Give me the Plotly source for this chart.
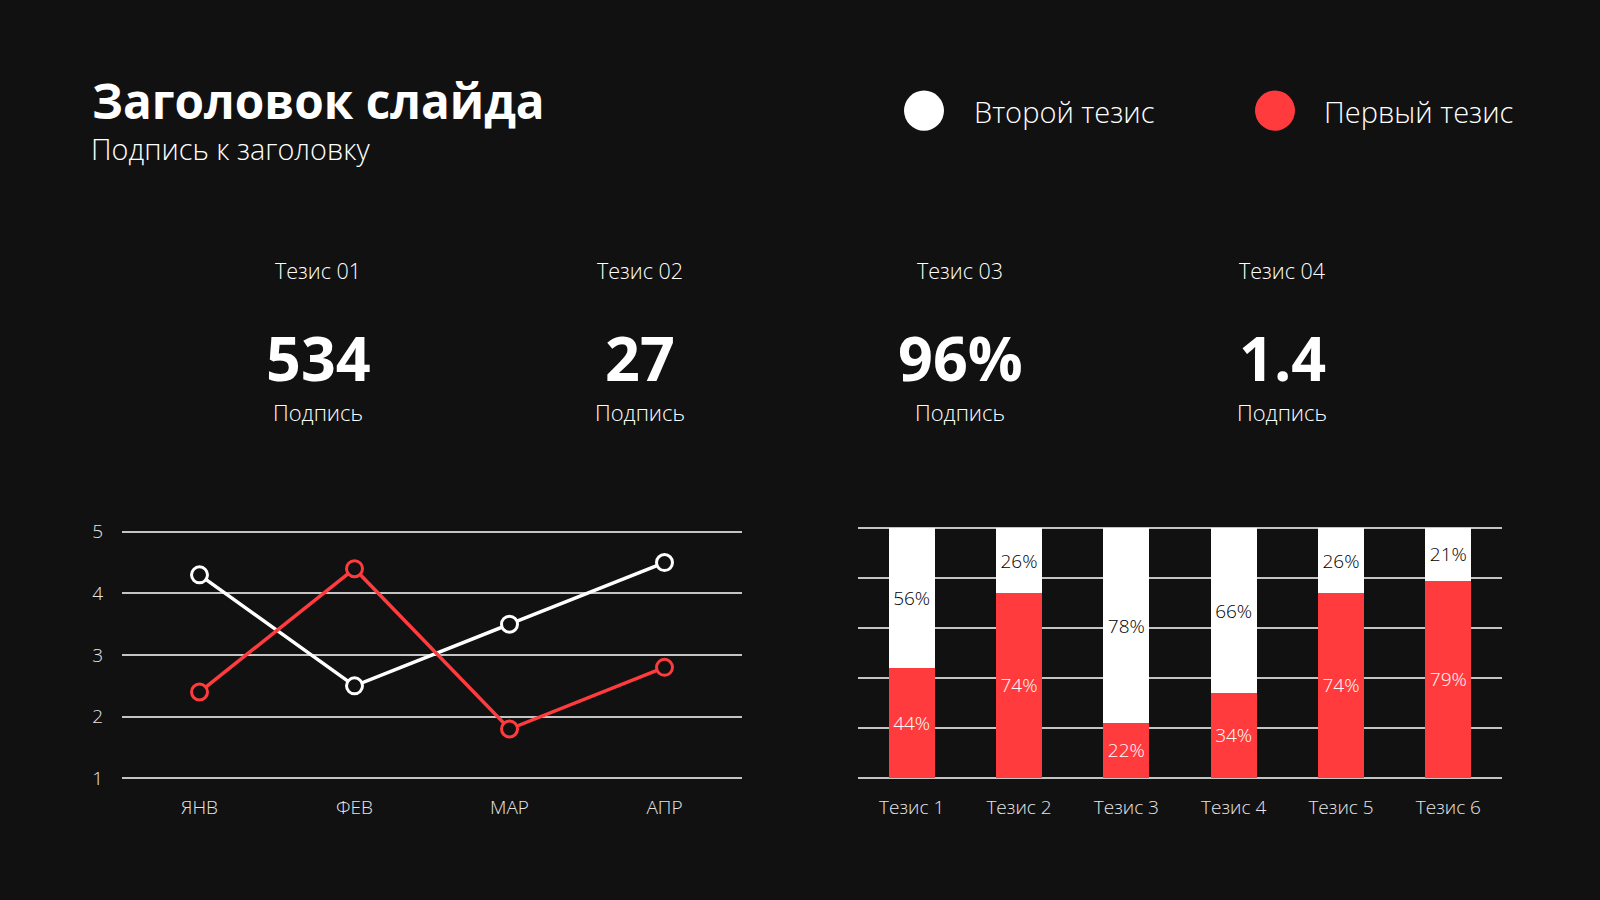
import plotly.graph_objects as go

W, H = 1600, 900
BG = "#111111"
RED = "#ff3b3d"
WHITE = "#ffffff"
GRID = "#c4c4c4"
FONT = "Open Sans"

title = "Заголовок слайда"
subtitle = "Подпись к заголовку"
legend_names = ["Второй тезис", "Первый тезис"]

kpi_titles = ["Тезис 01", "Тезис 02", "Тезис 03", "Тезис 04"]
kpi_values = ["534", "27", "96%", "1.4"]
kpi_captions = ["Подпись", "Подпись", "Подпись", "Подпись"]

months = ["ЯНВ", "ФЕВ", "МАР", "АПР"]
line_white = [4.3, 2.5, 3.5, 4.5]
line_red = [2.4, 4.4, 1.8, 2.8]

bar_cats = ["Тезис 1", "Тезис 2", "Тезис 3", "Тезис 4", "Тезис 5", "Тезис 6"]
bar_red = [44, 74, 22, 34, 74, 79]
bar_white = [56, 26, 78, 66, 26, 21]

# measured vertical rendering offset / scale of the page
Y_OFF, Y_SPAN = 7.65, 884.7


def px(x):
    return x / W


def py(y):
    return 1 - (y - Y_OFF) / Y_SPAN


fig = go.Figure()

# Line chart
fig.add_trace(go.Scatter(
    x=months, y=line_white, mode="lines+markers", xaxis="x", yaxis="y",
    line=dict(color=WHITE, width=3.5),
    marker=dict(size=16, color=BG, line=dict(color=WHITE, width=3)),
    cliponaxis=False, showlegend=False, name=legend_names[0]))
fig.add_trace(go.Scatter(
    x=months, y=line_red, mode="lines+markers", xaxis="x", yaxis="y",
    line=dict(color=RED, width=3.5),
    marker=dict(size=16, color=BG, line=dict(color=RED, width=3)),
    cliponaxis=False, showlegend=False, name=legend_names[1]))

# Stacked bar chart
fig.add_trace(go.Bar(
    x=bar_cats, y=bar_red, xaxis="x2", yaxis="y2", marker=dict(color=RED, line=dict(width=0)),
    text=[f"{v}%" for v in bar_red], textposition="inside", insidetextanchor="middle",
    textangle=0, constraintext="none",
    textfont=dict(family=FONT, size=19, color=WHITE, weight=300),
    showlegend=False, name=legend_names[1]))
fig.add_trace(go.Bar(
    x=bar_cats, y=bar_white, xaxis="x2", yaxis="y2", marker=dict(color=WHITE, line=dict(width=0)),
    text=[f"{v}%" for v in bar_white], textposition="inside", insidetextanchor="middle",
    textangle=0, constraintext="none",
    textfont=dict(family=FONT, size=19, color="#000000", weight=300),
    showlegend=False, name=legend_names[0]))

# Line axes: ticks 1..5 span y 531..777 px
unit = (777 - 531) / 4
ylo, yhi = 0.9, 5.1
y_top_px = 531 - (yhi - 5) * unit
y_bot_px = 777 + (1 - ylo) * unit

# Bar axes: 0..100 span y 527.5..776.5
bunit = (776.5 - 527.5) / 100
blo, bhi = -2, 102
b_top_px = 527.5 - (bhi - 100) * bunit
b_bot_px = 776.5 + (0 - blo) * bunit

tickfont = dict(family=FONT, size=19, color="#e6e6e6", weight=300)

fig.update_layout(
    width=W, height=H,
    margin=dict(l=0, r=0, t=0, b=0),
    paper_bgcolor=BG, plot_bgcolor=BG,
    barmode="stack", bargap=0.57,
    xaxis=dict(domain=[px(122), px(742)], range=[-0.5, 3.5], type="category",
               showgrid=False, zeroline=False, showline=False,
               ticks="outside", ticklen=6, tickcolor="rgba(0,0,0,0)",
               tickfont=tickfont, fixedrange=True),
    yaxis=dict(domain=[py(y_bot_px), py(y_top_px)], range=[ylo, yhi],
               tickvals=[1, 2, 3, 4, 5], showgrid=True, gridcolor=GRID, gridwidth=1.5,
               zeroline=False, showline=False,
               ticks="outside", ticklen=14, tickcolor="rgba(0,0,0,0)",
               tickfont=tickfont, fixedrange=True),
    xaxis2=dict(domain=[px(858), px(1502)], range=[-0.5, 5.5], type="category",
                anchor="y2", showgrid=False, zeroline=False, showline=False,
                ticks="outside", ticklen=7, tickcolor="rgba(0,0,0,0)",
                tickfont=tickfont, fixedrange=True),
    yaxis2=dict(domain=[py(b_bot_px), py(b_top_px)], range=[blo, bhi], anchor="x2",
                tickvals=[0, 20, 40, 60, 80, 100], showticklabels=False,
                showgrid=True, gridcolor=GRID, gridwidth=1.5,
                zeroline=False, showline=False, fixedrange=True),
)

ann = []
ann.append(dict(text=title, x=px(90), y=py(101), xanchor="left", yanchor="middle",
                font=dict(family=FONT, size=47.7, color=WHITE, weight=700)))
ann.append(dict(text=subtitle, x=px(89), y=py(149), xanchor="left", yanchor="middle",
                font=dict(family=FONT, size=28.8, color=WHITE, weight=300)))

# Legend
leg_circles = [(924, WHITE), (1275, RED)]
leg_text_x = [972, 1322]
shapes = []
for (cx, col), tx, name in zip(leg_circles, leg_text_x, legend_names):
    r = 20
    shapes.append(dict(type="circle", xref="paper", yref="paper",
                       x0=px(cx - r), x1=px(cx + r), y0=py(111 + r), y1=py(111 - r),
                       fillcolor=col, line=dict(width=0)))
    ann.append(dict(text=name, x=px(tx), y=py(112), xanchor="left", yanchor="middle",
                    font=dict(family=FONT, size=29, color=WHITE, weight=300)))

# KPI blocks
kpi_x = [318, 640, 960, 1282]
for x, t, v, c in zip(kpi_x, kpi_titles, kpi_values, kpi_captions):
    ann.append(dict(text=t, x=px(x), y=py(270), xanchor="center", yanchor="middle",
                    font=dict(family=FONT, size=21.5, color=WHITE, weight=300)))
    ann.append(dict(text=v, x=px(x), y=py(357), xanchor="center", yanchor="middle",
                    font=dict(family=FONT, size=61, color=WHITE, weight=700)))
    ann.append(dict(text=c, x=px(x), y=py(412), xanchor="center", yanchor="middle",
                    font=dict(family=FONT, size=22, color=WHITE, weight=300)))

for a in ann:
    a.update(xref="paper", yref="paper", showarrow=False)

fig.update_layout(annotations=ann, shapes=shapes)
fig.write_html("out.html")
